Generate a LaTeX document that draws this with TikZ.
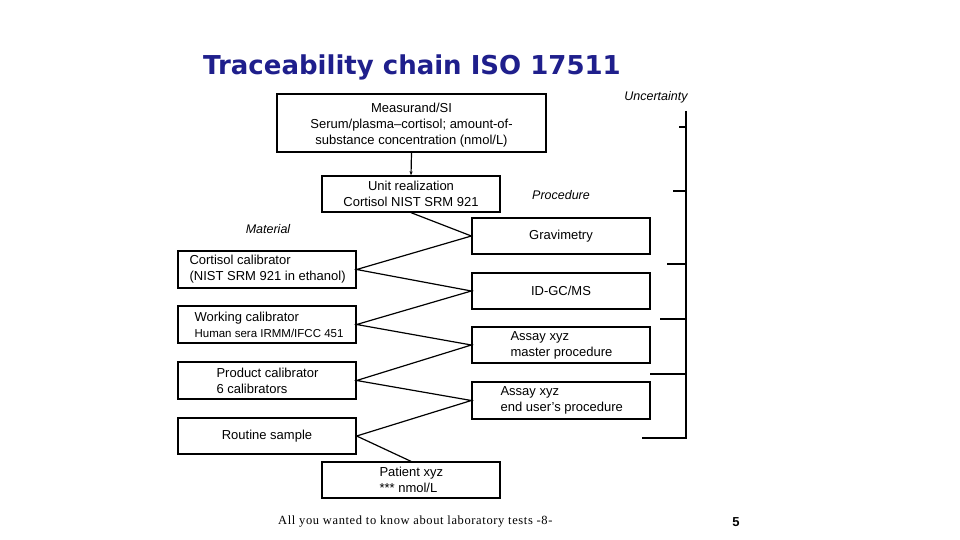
\documentclass[tikz,border=0pt]{standalone}
\usepackage{fontspec}
\setmainfont{Liberation Sans}
\newfontfamily\footserif[LetterSpace=5]{Liberation Serif}
\newfontfamily\titlefont{DejaVu Sans}
\usetikzlibrary{arrows.meta}
\definecolor{titleblue}{HTML}{1F1F8C}
\begin{document}
\begin{tikzpicture}[x=1pt,y=-1pt,
  box/.style={draw,line width=1.3pt,minimum height=36pt,minimum width=178pt,inner sep=0pt,
    align=center,font=\fontsize{13}{16}\selectfont},
  txt/.style={anchor=west,inner sep=0pt,align=left,font=\fontsize{13}{16}\selectfont},
  lab/.style={font=\fontsize{12.5}{14}\selectfont\itshape,inner sep=0pt},
  link/.style={line width=1.2pt}]
\useasboundingbox (0,0) rectangle (960,540);
\fill[white] (0,0) rectangle (960,540);

\node[anchor=base west,inner sep=0pt,text=titleblue,font=\titlefont\fontsize{26}{28}\selectfont\bfseries] (title) at (203,75) {Traceability chain ISO 17511};

\node[box,minimum width=269pt,minimum height=58pt,line width=1.6pt] (meas) at (411.5,123) {};
\node[inner sep=0pt,align=center,font=\fontsize{13}{16}\selectfont] (meast) at (411.5,125) {Measurand/SI\\Serum/plasma--cortisol; amount-of-\\substance concentration (nmol/L)};
\node[box] (unit) at (411,194) {Unit realization\\Cortisol NIST SRM 921};

\node[box] (grav) at (561,236) {Gravimetry};
\node[box] (idgc) at (561,291) {ID-GC/MS};
\node[box] (assm) at (561,345) {};
\node[box,minimum height=37pt] (asse) at (561,400.5) {};

\node[box,minimum height=37pt] (cort) at (267,269.5) {};
\node[box,minimum height=37pt] (work) at (267,324.5) {};
\node[box,minimum height=37pt] (prod) at (267,380.5) {};
\node[box] (rout) at (267,436) {Routine sample};
\node[box] (pat) at (411,480) {};

\node[txt] (assmt) at ([xshift=39pt]assm.west) {Assay xyz\\master procedure};
\node[txt] (asset) at ([xshift=29pt]asse.west) {Assay xyz\\end user's procedure};
\node[txt] (cortt) at ([xshift=12pt]cort.west) {Cortisol calibrator\\(NIST SRM 921 in ethanol)};
\node[txt] (workt) at ([xshift=17pt]work.west) {Working calibrator\\{\fontsize{11.5}{14}\selectfont Human sera IRMM/IFCC 451}};
\node[txt] (prodt) at ([xshift=39pt]prod.west) {Product calibrator\\6 calibrators};
\node[txt] (patt) at ([xshift=58pt]pat.west) {Patient xyz\\\relax *** nmol/L};

\node[lab] (proc) at (561,195) {Procedure};
\node[lab] (mat) at (268,229) {Material};
\node[lab] (unc) at (656,97) {Uncertainty};

\draw[link,-{Stealth[length=4pt,width=3pt]}] (meas.south) -- (unit.north);
\draw[link] (unit.south) -- (grav.west) -- (cort.east) -- (idgc.west) -- (work.east)
  -- (assm.west) -- (prod.east) -- (asse.west) -- (rout.east) -- (pat.north);

\coordinate (ut) at (686,111);
\coordinate (ub) at (686,438);
\draw[line width=1.8pt] (ut) -- (ub) -- (642,438);
\draw[line width=1.2pt] (679,127) -- (686,127);
\draw[line width=1.8pt] (673,191) -- (686,191);
\draw[line width=1.8pt] (667,264) -- (686,264);
\draw[line width=1.1pt] (660,319) -- (686,319);
\draw[line width=1.1pt] (650,374) -- (686,374);

\node[anchor=west,inner sep=0pt,font=\footserif\fontsize{12.5}{14}\selectfont] (foot) at (278,522) {All you wanted to know about laboratory tests -8-};
\node[inner sep=0pt,font=\fontsize{13}{14}\selectfont\bfseries] (page) at (736,522) {5};
\end{tikzpicture}
\end{document}
